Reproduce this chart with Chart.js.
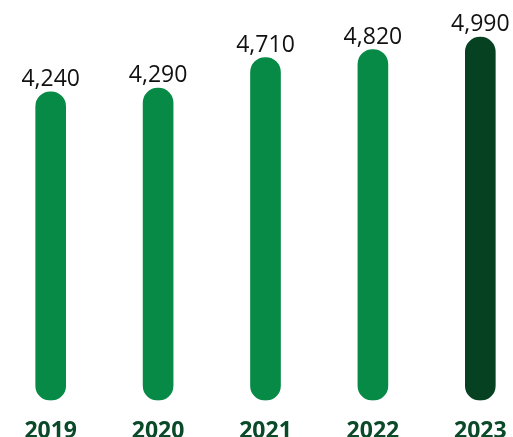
<!DOCTYPE html>
<html>
<head>
<meta charset="utf-8">
<script src="https://cdn.jsdelivr.net/npm/chart.js@4"></script>
<style>
  html, body { margin: 0; padding: 0; background: #fff; overflow: hidden; }
  #wrap { position: absolute; left: -3px; top: 0; width: 537px; height: 454px; }
</style>
</head>
<body>
<div id="wrap"><canvas id="myChart"></canvas></div>
<script>
const labels = ["2019", "2020", "2021", "2022", "2023"];
const values = [4240, 4290, 4710, 4820, 4990];
const barColors = ["#068a45", "#068a45", "#068a45", "#068a45", "#064221"];

// draws the value above each bar
const valueLabels = {
  id: "valueLabels",
  afterDatasetsDraw(chart) {
    const ctx = chart.ctx;
    const meta = chart.getDatasetMeta(0);
    ctx.save();
    ctx.font = "23px 'Open Sans'";
    ctx.fillStyle = "#111";
    ctx.textAlign = "center";
    ctx.textBaseline = "alphabetic";
    meta.data.forEach((bar, i) => {
      ctx.fillText(values[i].toLocaleString("en-US"), bar.x, bar.y - 6);
    });
    ctx.restore();
  }
};

new Chart(document.getElementById("myChart"), {
  type: "bar",
  data: {
    labels: labels,
    datasets: [{
      data: values,
      backgroundColor: barColors,
      barThickness: 30,
      borderRadius: 15,
      borderSkipped: false
    }]
  },
  options: {
    responsive: true,
    maintainAspectRatio: false,
    animation: false,
    layout: { padding: 0 },
    plugins: { legend: { display: false }, tooltip: { enabled: false } },
    scales: {
      y: { display: false, min: 0, max: 5500 },
      x: {
        grid: { display: false },
        border: { display: false },
        ticks: {
          color: "#0b4a29",
          padding: 9,
          font: { family: "'Open Sans'", size: 23, weight: "bold" }
        }
      }
    }
  },
  plugins: [valueLabels]
});
</script>
</body>
</html>
